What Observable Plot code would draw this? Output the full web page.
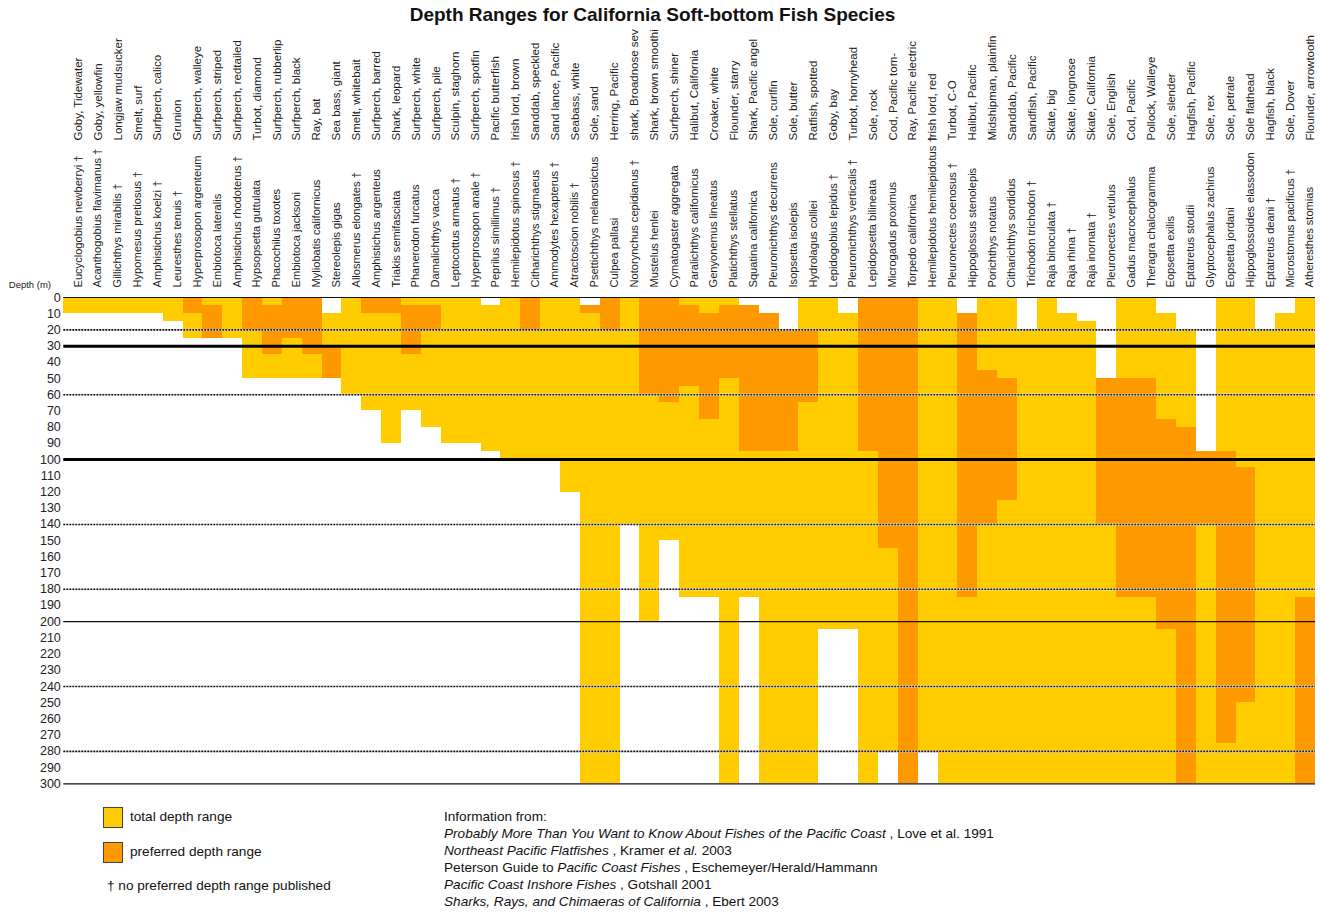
<!DOCTYPE html>
<html><head><meta charset="utf-8">
<script src="https://cdn.jsdelivr.net/npm/d3@7"></script>
<script src="https://cdn.jsdelivr.net/npm/@observablehq/plot@0.6"></script>
<style>
body{margin:0;background:#fff;font-family:"Liberation Sans",Arial,sans-serif;color:#111;}
#wrap{position:relative;width:1320px;height:912px;overflow:hidden;}
#title{position:absolute;top:4px;left:0;width:1305px;text-align:center;font-weight:bold;font-size:19px;}
#chart{position:absolute;top:30px;left:0;}
.sw{position:absolute;width:20px;height:21px;border:1px solid #444;box-sizing:border-box;}
.lt{position:absolute;font-size:13.6px;line-height:16px;}
#src{position:absolute;left:444px;top:808px;font-size:13.6px;line-height:17px;white-space:nowrap;}
</style></head><body>
<div id="wrap">
<div id="title">Depth Ranges for California Soft-bottom Fish Species</div>
<div id="chart"></div>
<div class="sw" style="left:103px;top:807px;background:#FFCC00"></div>
<div class="lt" style="left:130px;top:809px">total depth range</div>
<div class="sw" style="left:103px;top:842px;background:#FF9900"></div>
<div class="lt" style="left:130px;top:844px">preferred depth range</div>
<div class="lt" style="left:107px;top:878px">† no preferred depth range published</div>
<div id="src">Information from:<br>
<i>Probably More Than You Want to Know About Fishes of the Pacific Coast</i> , Love et al. 1991<br>
<i>Northeast Pacific Flatfishes</i> , Kramer <i>et al.</i> 2003<br>
Peterson Guide to <i>Pacific Coast Fishes</i> , Eschemeyer/Herald/Hammann<br>
<i>Pacific Coast Inshore Fishes</i> , Gotshall 2001<br>
<i>Sharks, Rays, and Chimaeras of California</i> , Ebert 2003</div>
</div>
<script>
const commonNames = ["Goby, Tidewater","Goby, yellowfin","Longjaw mudsucker","Smelt, surf","Surfperch, calico","Grunion","Surfperch, walleye","Surfperch, striped","Surfperch, redtailed","Turbot, diamond","Surfperch, rubberlip","Surfperch, black","Ray, bat","Sea bass, giant","Smelt, whitebait","Surfperch, barred","Shark, leopard","Surfperch, white","Surfperch, pile","Sculpin, staghorn","Surfperch, spotfin","Pacific butterfish","Irish lord, brown","Sanddab, speckled","Sand lance, Pacific","Seabass, white","Sole, sand","Herring, Pacific","shark, Broadnose sev","Shark, brown smoothi","Surfperch, shiner","Halibut, California","Croaker, white","Flounder, starry","Shark, Pacific angel","Sole, curlfin","Sole, butter","Ratfish, spotted","Goby, bay","Turbot, hornyhead","Sole, rock","Cod, Pacific tom-","Ray, Pacific electric","Irish lord, red","Turbot, C-O","Halibut, Pacific","Midshipman, plainfin","Sanddab, Pacific","Sandfish, Pacific","Skate, big","Skate, longnose","Skate, California","Sole, English","Cod, Pacific","Pollock, Walleye","Sole, slender","Hagfish, Pacific","Sole, rex","Sole, petrale","Sole flathead","Hagfish, black","Sole, Dover","Flounder, arrowtooth"];
const scientificNames = ["Eucyclogobius newberryi †","Acanthogobius flavimanus †","Gillichthys mirabilis †","Hypomesus pretiosus †","Amphistichus koelzi †","Leuresthes tenuis †","Hyperprosopon argenteum","Embiotoca lateralis","Amphistichus rhodoterus †","Hypsopsetta guttulata","Phacochilus toxotes","Embiotoca jacksoni","Myliobatis californicus","Stereolepis gigas","Allosmerus elongates †","Amphistichus argenteus","Triakis semifasciata","Phanerodon furcatus","Damalichthys vacca","Leptocottus armatus †","Hyperprosopon anale †","Peprilus simillimus †","Hemilepidotus spinosus †","Citharichthys stigmaeus","Ammodytes hexapterus †","Atractoscion nobilis †","Psettichthys melanostictus","Culpea pallasi","Notorynchus cepidianus †","Mustelus henlei","Cymatogaster aggregata","Paralichthys californicus","Genyonemus lineatus","Platichthys stellatus","Squatina californica","Pleuronichthys decurrens","Isopsetta isolepis","Hydrolagus colliei","Lepidogobius lepidus †","Pleuronichthys verticalis †","Lepidopsetta bilineata","Microgadus proximus","Torpedo californica","Hemilepidotus hemilepidotus †","Pleuronectes coenosus †","Hippoglossus stenolepis","Porichthys notatus","Citharichthys sordidus","Trichodon trichodon †","Raja binoculata †","Raja rhina †","Raja inornata †","Pleuronectes vetulus","Gadus macrocephalus","Theragra chalcogramma","Eopsetta exilis","Eptatretus stoutii","Glyptocephalus zachirus","Eopsetta jordani","Hippoglossoides elassodon","Eptatretus deani †","Microstomus pacificus †","Atheresthes stomias"];
const totalMin = [0,0,0,0,0,0,0,0,0,0,0,0,0,10,0,0,0,0,0,0,0,5,0,0,0,0,5,0,0,0,0,0,0,0,5,10,20,0,0,10,0,0,0,0,0,10,0,0,20,0,10,15,50,0,0,10,20,95,0,0,20,10,0];
const totalMax = [10,10,10,10,10,15,25,25,25,50,50,50,50,50,60,70,90,70,80,90,90,95,100,100,100,120,300,300,140,200,150,185,185,300,185,300,300,300,205,205,300,280,300,280,300,300,300,300,300,300,300,300,300,300,300,300,300,300,300,300,300,300,300];
const prefMin = [null,null,null,null,null,null,0,5,null,0,5,0,0,30,null,0,0,5,5,null,null,null,null,0,null,null,5,0,null,0,0,5,10,5,5,10,20,20,null,null,0,0,0,null,null,10,45,50,null,null,null,null,50,50,50,75,80,95,95,105,null,null,185];
const prefMax = [null,null,null,null,null,null,10,25,null,20,35,25,35,50,null,10,10,35,20,null,null,null,null,20,null,null,10,20,null,60,65,55,75,50,95,95,95,65,null,null,95,155,300,null,null,185,140,125,null,null,null,null,140,185,185,205,300,140,275,250,null,null,300];
const depthTicks = d3.range(0, 301, 10);
const thinLines = [0, 200, 300];
const thickLines = [30, 100];
const dottedLines = [20, 60, 140, 180, 240, 280];

const totalData = commonNames.map((c, i) => ({species: c, y1: totalMin[i], y2: totalMax[i]}));
const prefData = commonNames.map((c, i) => ({species: c, y1: prefMin[i], y2: prefMax[i]})).filter(d => d.y1 !== null);
const labels = commonNames.map((c, i) => ({species: c, sci: scientificNames[i]}));

const chart = Plot.plot({
  width: 1320, height: 762,
  marginLeft: 63.3, marginRight: 5, marginTop: 267, marginBottom: 8.7,
  style: {fontFamily: "Liberation Sans, Arial, sans-serif", fontSize: "10px", overflow: "visible", background: "white"},
  x: {type: "band", domain: commonNames, padding: 0, axis: null},
  y: {domain: [0, 300], reverse: true, axis: null},
  marks: [
    Plot.barY(totalData, {x: "species", y1: "y1", y2: "y2", fill: "#FFCC00", shapeRendering: "crispEdges"}),
    Plot.barY(prefData, {x: "species", y1: "y1", y2: "y2", fill: "#FF9900", shapeRendering: "crispEdges"}),
    Plot.ruleY(dottedLines, {stroke: "white", strokeWidth: 2}),
    Plot.ruleY(dottedLines, {stroke: "#111", strokeWidth: 1.6, strokeDasharray: "2,1"}),
    Plot.ruleY(thinLines, {stroke: "#111", strokeWidth: 1.2}),
    Plot.ruleY(thickLines, {stroke: "#000", strokeWidth: 3}),
    Plot.axisY({ticks: depthTicks, tickSize: 0, tickPadding: 3, fontSize: 12.5, fill: "#222", label: null}),
    Plot.text(labels, {x: "species", text: "sci", rotate: -90, frameAnchor: "top", dy: -10, textAnchor: "start", fontSize: 11.1, fill: "#222"}),
    Plot.text(labels, {x: "species", text: "species", rotate: -90, frameAnchor: "top", dy: -157, textAnchor: "start", fontSize: 11.5, fill: "#222"}),
    Plot.text(["Depth (m)"], {frameAnchor: "top-left", dx: -55, dy: -16, textAnchor: "start", fontSize: 9.5, fill: "#222"})
  ]
});
document.getElementById("chart").appendChild(chart);
</script>
</body></html>
